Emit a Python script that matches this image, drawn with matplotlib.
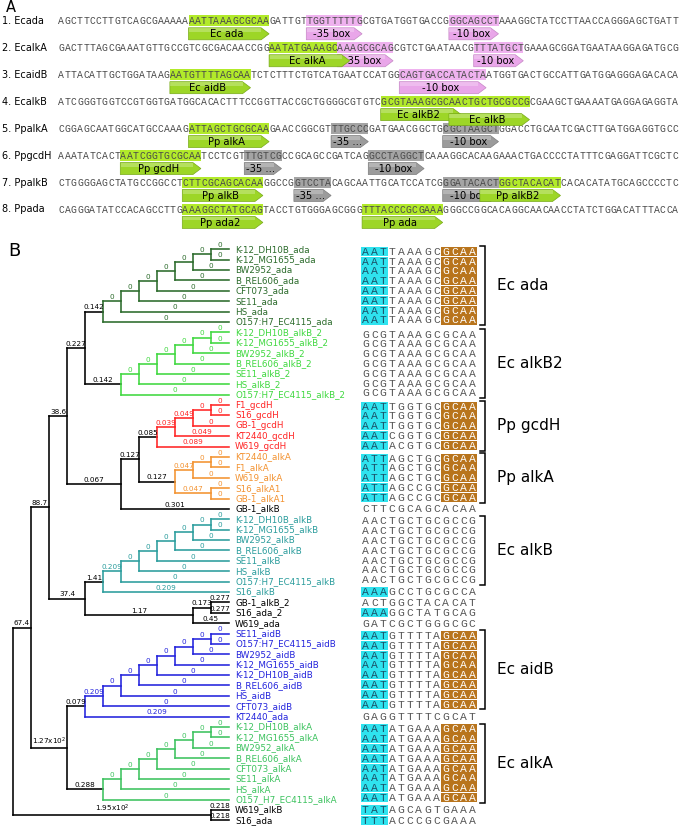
import matplotlib
matplotlib.use('Agg')
import matplotlib.pyplot as plt
from matplotlib.patches import Rectangle, Polygon

# ------------------------------------------------------------------ data: panel A
promoter_names = ["1. Ecada", "2. EcalkA", "3. EcaidB", "4. EcalkB",
                  "5. PpalkA", "6. PpgcdH", "7. PpalkB", "8. Ppada"]
promoter_seqs = [
    "AGCTTCCTTGTCAGCGAAAAAAATTAAAGCGCAAGATTGTTGGTTTTTGCGTGATGGTGACCGGGCAGCCTAAAGGCTATCCTTAACCAGGGAGCTGATT",
    "GACTTTAGCGAAATGTTGCCGTCGCGACAACCGGAATATGAAAGCAAAGCGCAGCGTCTGAATAACGTTTATGCTGAAAGCGGATGAATAAGGAGATGCG",
    "ATTACATTGCTGGATAAGAATGTTTTAGCAATCTCTTTCTGTCATGAATCCATGGCAGTGACCATACTAATGGTGACTGCCATTGATGGAGGGAGACACA",
    "ATCGGGTGGTCCGTGGTGATGGCACACTTTCCGGTTACCGCTGGGGCGTGTCGCGTAAAGCGCAACTGCTGCGCCGCGAAGCTGAAAATGAGGAGAGGTA",
    "CGGAGCAATGGCATGCCAAAGATTAGCTGCGCAAGAACCGGCGTTTGCCCGATGAACGGCTGCGCTAAGCTGGACCTGCAATCGACTTGATGGAGGTGCC",
    "AAATATCACTAATCGGTGCGCAATCCTCGTTTGTCGCCGCAGCCGATCAGGCCTAGGCTCAAAGGCACAAGAAACTGACCCCTATTTCGAGGATTCGCTC",
    "CTGGGGAGCTATGCCGGCCTCTTCGCAGCACAAGGCCGGTCCTACAGCAATTGCATCCATCGGGATACACTGGCTACACATCACACATATGCAGCCCCTC",
    "CAGGGATATCCACAGCCTTGAAAGGCTATGCAGTACCTGTGGGAGCGGGTTTACCCGCGAAAGGGCCGGCACAGGCAACAACCTATCTGGACATTTACCA",
]
# features: row, start, end, label, kind, level
feat_row   = [0, 0, 0,   1, 1, 1,   2, 2,   3, 3,   4, 4, 4,   5, 5, 5,   6, 6, 6, 6,   7, 7]
feat_start = [21, 40, 63, 34, 45, 67, 18, 55, 52, 63, 21, 44, 62, 10, 30, 50, 20, 38, 68, 62, 20, 49]
feat_end   = [34, 49, 71, 47, 54, 75, 31, 69, 65, 76, 34, 50, 71, 23, 36, 59, 33, 44, 81, 71, 33, 62]
feat_label = ["Ec ada", "-35 box", "-10 box",
              "Ec alkA", "-35 box", "-10 box",
              "Ec aidB", "-10 box",
              "Ec alkB2", "Ec alkB",
              "Pp alkA", "-35 ...", "-10 box",
              "Pp gcdH", "-35 ...", "-10 box",
              "Pp alkB", "-35 ...", "Pp alkB2", "-10 box",
              "Pp ada2", "Pp ada"]
feat_kind  = ["site", "ec", "ec", "site", "ec", "ec", "site", "ec", "site", "site",
              "site", "pp", "pp", "site", "pp", "pp", "site", "pp", "site", "pp",
              "site", "site"]
feat_level = [0, 0, 0, 0, 0, 0, 0, 0, 0, 1, 0, 0, 0, 0, 0, 0, 0, 0, 0, 0, 0, 0]

# ------------------------------------------------------------------ data: panel B tree
def L(name, bl):
    return {"name": name, "bl": bl}

def N(bl, *children, clade=None):
    return {"bl": bl, "children": list(children), "clade": clade}

def ladder(names, leaf_bls, node_bls, clade=None):
    node = N(node_bls[0], L(names[0], leaf_bls[0]), L(names[1], leaf_bls[1]))
    for k in range(2, len(names)):
        node = N(node_bls[k - 1], node, L(names[k], leaf_bls[k]))
    node["clade"] = clade
    return node

ada_names = ["K-12_DH10B_ada", "K-12_MG1655_ada", "BW2952_ada", "B_REL606_ada",
             "CFT073_ada", "SE11_ada", "HS_ada", "O157:H7_EC4115_ada"]
ada_leaf_bl = ["0", "0", "0", "0", "0", "0", "0", "0"]
ada_node_bl = ["0", "0", "0", "0", "0", "0", "0.142"]

alkB2_names = ["K-12_DH10B_alkB_2", "K-12_MG1655_alkB_2", "BW2952_alkB_2", "B_REL606_alkB_2",
               "SE11_alkB_2", "HS_alkB_2", "O157:H7_EC4115_alkB_2"]
alkB2_leaf_bl = ["0", "0", "0", "0", "0", "0", "0"]
alkB2_node_bl = ["0", "0", "0", "0", "0", "0.142"]

alkB_names = ["K-12_DH10B_alkB", "K-12_MG1655_alkB", "BW2952_alkB", "B_REL606_alkB",
              "SE11_alkB", "HS_alkB", "O157:H7_EC4115_alkB"]
alkB_leaf_bl = ["0", "0", "0", "0", "0", "0", "0"]
alkB_node_bl = ["0", "0", "0", "0", "0", "0.209"]

aidB_names = ["SE11_aidB", "O157:H7_EC4115_aidB", "BW2952_aidB", "K-12_MG1655_aidB",
              "K-12_DH10B_aidB", "B_REL606_aidB", "HS_aidB", "CFT073_aidB"]
aidB_leaf_bl = ["0", "0", "0", "0", "0", "0", "0", "0"]
aidB_node_bl = ["0", "0", "0", "0", "0", "0", "0.209"]

alkA_names = ["K-12_DH10B_alkA", "K-12_MG1655_alkA", "BW2952_alkA", "B_REL606_alkA",
              "CFT073_alkA", "SE11_alkA", "HS_alkA", "O157_H7_EC4115_alkA"]
alkA_leaf_bl = ["0", "0", "0", "0", "0", "0", "0", "0"]
alkA_node_bl = ["0", "0", "0", "0", "0", "0", "0.288"]

clade_colors = {"ada": "#2b6b2b", "alkB2": "#3fd83f", "gcdH": "#ff2424",
                "PpalkA": "#f39230", "alkB": "#2a9c9c", "aidB": "#2323dc",
                "alkA": "#3cc25e", None: "#000000"}

tree = N("",
    N("67.4",
        N("88.7",
            N("38.6",
                N("0.227",
                    ladder(ada_names, ada_leaf_bl, ada_node_bl, "ada"),
                    ladder(alkB2_names, alkB2_leaf_bl, alkB2_node_bl, "alkB2")),
                N("0.067",
                    N("0.127",
                        N("0.085",
                            N("0.039",
                                N("0.049",
                                    N("0", L("F1_gcdH", "0"), L("S16_gcdH", "0")),
                                    L("GB-1_gcdH", "0")),
                                L("KT2440_gcdH", "0.049")),
                            L("W619_gcdH", "0.089"), clade="gcdH"),
                        N("0.127",
                            N("0.047",
                                N("0", L("KT2440_alkA", "0"), L("F1_alkA", "0")),
                                L("W619_alkA", "0")),
                            N("0.047", L("S16_alkA1", "0"), L("GB-1_alkA1", "0")),
                            clade="PpalkA")),
                    L("GB-1_alkB", "0.301"))),
            N("37.4",
                N("1.41",
                    ladder(alkB_names, alkB_leaf_bl, alkB_node_bl),
                    L("S16_alkB", "0.209"), clade="alkB"),
                N("1.17",
                    N("0.173", L("GB-1_alkB_2", "0.277"), L("S16_ada_2", "0.277")),
                    L("W619_ada", "0.45")))),
        N("1.27x10$^2$",
            N("0.079",
                ladder(aidB_names, aidB_leaf_bl, aidB_node_bl),
                L("KT2440_ada", "0.209"), clade="aidB"),
            ladder(alkA_names, alkA_leaf_bl, alkA_node_bl, "alkA"))),
    N("1.95x10$^2$", L("W619_alkB", "0.218"), L("S16_ada", "0.218")))

# ------------------------------------------------------------------ data: panel B motifs
motif_seqs = [
    "AATTAAAGCGCAA", "AATTAAAGCGCAA", "AATTAAAGCGCAA", "AATTAAAGCGCAA",
    "AATTAAAGCGCAA", "AATTAAAGCGCAA", "AATTAAAGCGCAA", "AATTAAAGCGCAA",
    "GCGTAAAGCGCAA", "GCGTAAAGCGCAA", "GCGTAAAGCGCAA", "GCGTAAAGCGCAA",
    "GCGTAAAGCGCAA", "GCGTAAAGCGCAA", "GCGTAAAGCGCAA",
    "AATTGGTGCGCAA", "AATTGGTGCGCAA", "AATTGGTGCGCAA", "AATCGGTGCGCAA", "AATACGTGCGCAA",
    "ATTAGCTGCGCAA", "ATTAGCTGCGCAA", "ATTAGCTGCGCAA", "ATTAGCCGCGCAA", "ATTAGCCGCGCAA",
    "CTTCGCAGCACAA",
    "AACTGCTGCGCCG", "AACTGCTGCGCCG", "AACTGCTGCGCCG", "AACTGCTGCGCCG",
    "AACTGCTGCGCCG", "AACTGCTGCGCCG", "AACTGCTGCGCCG",
    "AAAGCCTGCGCCA", "ACTGGCTACACAT", "AAAGGCTATGCAG", "GATCGCTGGGCGC",
    "AATGTTTTAGCAA", "AATGTTTTAGCAA", "AATGTTTTAGCAA", "AATGTTTTAGCAA",
    "AATGTTTTAGCAA", "AATGTTTTAGCAA", "AATGTTTTAGCAA", "AATGTTTTAGCAA",
    "GAGGTTTTCGCAT",
    "AATATGAAAGCAA", "AATATGAAAGCAA", "AATATGAAAGCAA", "AATATGAAAGCAA",
    "AATATGAAAGCAA", "AATATGAAAGCAA", "AATATGAAAGCAA", "AATATGAAAGCAA",
    "TATAGCAGTGAAA", "TTTACCCGCGAAA",
]
motif_marks = (["cb"] * 8 + [""] * 7 + ["cb"] * 5 + ["cb"] * 5 + [""] + [""] * 7 +
               ["c", "", "c", ""] + ["cb"] * 8 + [""] + ["cb"] * 8 + ["c", "c"])
group_labels = ["Ec ada", "Ec alkB2", "Pp gcdH", "Pp alkA", "Ec alkB", "Ec aidB", "Ec alkA"]
group_first = [0, 8, 15, 20, 26, 37, 46]
group_last = [7, 14, 19, 24, 32, 44, 53]

# ------------------------------------------------------------------ figure
W, H = 683, 833
fig = plt.figure(figsize=(W / 100, H / 100), dpi=100)
ax = fig.add_axes([0, 0, 1, 1])
ax.set_xlim(0, W)
ax.set_ylim(H, 0)
ax.axis("off")

MONO = "Liberation Mono"
SANS = "DejaVu Sans"

ax.text(6, 11.5, "A", fontsize=10.5, family=SANS, va="baseline", ha="left")
ax.text(8, 251, "B", fontsize=13, family=SANS, va="center", ha="left")

# ---------------- panel A
A_x0, A_cw, A_y0, A_dy = 58.3, 6.2, 20.8, 26.95
hl_col = {"site": "#b2ea2a", "ec": "#efb2ef", "pp": "#a4a4a4"}
ar_col = {"site": "#9dd627", "ec": "#e9a6e9", "pp": "#9b9b9b"}
ar_edge = {"site": "#78aa1a", "ec": "#c688c6", "pp": "#7d7d7d"}

for i, (name, seq) in enumerate(zip(promoter_names, promoter_seqs)):
    y = A_y0 + i * A_dy
    ax.text(2, y, name, fontsize=7, family=SANS, va="center", ha="left")
    for j, ch in enumerate(seq):
        ax.text(A_x0 + (j + 0.5) * A_cw, y + 0.3, ch, fontsize=7.0, family=MONO,
                ha="center", va="center", color="#4a4a4a", zorder=3)

for k in range(len(feat_row)):
    y = A_y0 + feat_row[k] * A_dy
    x0 = A_x0 + feat_start[k] * A_cw
    x1 = A_x0 + feat_end[k] * A_cw
    kind = feat_kind[k]
    ax.add_patch(Rectangle((x0, y - 5.5), x1 - x0, 11, facecolor=hl_col[kind],
                           edgecolor="none", zorder=2))
    top = y + 7 + 5 * feat_level[k]
    hgt = 12
    tip = 8
    z = 5 + k * 0.01 if kind == "site" else 4 + k * 0.01
    poly = Polygon([(x0, top), (x1 - tip, top), (x1, top + hgt / 2),
                    (x1 - tip, top + hgt), (x0, top + hgt)], closed=True,
                   facecolor=ar_col[kind], edgecolor=ar_edge[kind], linewidth=0.5, zorder=z)
    ax.add_patch(poly)
    ax.add_patch(Rectangle((x0 + 0.5, top + 0.5), x1 - x0 - tip - 0.5, 3.5,
                           facecolor="white", alpha=0.25, edgecolor="none", zorder=z + 0.001))
    ax.text((x0 + x1 - tip * 0.6) / 2, top + hgt / 2 + 0.3, feat_label[k], fontsize=7.2,
            family=SANS, ha="center", va="center", color="black", zorder=z + 0.002)

# ---------------- panel B tree
TIP_X, STEP = 229.0, 18.0
LEAF_Y0, LEAF_DY = 249.3, 10.385
leaves = []

def prepare(node, color):
    if node.get("clade") is not None:
        color = clade_colors[node["clade"]]
    node["color"] = color
    if "name" in node:
        node["h"] = 0
        node["y"] = LEAF_Y0 + len(leaves) * LEAF_DY
        leaves.append(node)
    else:
        for c in node["children"]:
            prepare(c, color)
        node["h"] = 1 + max(c["h"] for c in node["children"])
        node["y"] = (node["children"][0]["y"] + node["children"][-1]["y"]) / 2
    node["x"] = TIP_X - STEP * node["h"]

prepare(tree, "#000000")

LW = 1.15

def draw(node):
    if "name" in node:
        ax.text(node["x"] + 6, node["y"], node["name"], fontsize=6.3, family=SANS,
                color=node["color"], ha="left", va="center")
        return
    ys = [c["y"] for c in node["children"]]
    ax.plot([node["x"], node["x"]], [min(ys), max(ys)], color=node["color"], lw=LW,
            solid_capstyle="projecting", zorder=2)
    for c in node["children"]:
        ax.plot([node["x"], c["x"]], [c["y"], c["y"]], color=node["color"], lw=LW,
                solid_capstyle="projecting", zorder=2)
        ax.text((node["x"] + c["x"]) / 2, c["y"] - 1.2, c["bl"], fontsize=5.2, family=SANS,
                color=node["color"], ha="center", va="bottom", zorder=3)
        draw(c)

draw(tree)

# ---------------- panel B motifs
S_x0, S_cw = 361.0, 8.9
seq_y = [lf["y"] for lf in leaves]
for g in range(len(group_labels)):
    a, b = group_first[g], group_last[g]
    cy = (seq_y[a] + seq_y[b]) / 2
    n = b - a + 1
    for k in range(n):
        seq_y[a + k] = cy + (k - (n - 1) / 2) * 9.8

for r, (s, m) in enumerate(zip(motif_seqs, motif_marks)):
    y = seq_y[r]
    if "c" in m:
        ax.add_patch(Rectangle((S_x0, y - 4.6), 3 * S_cw, 9.2, facecolor="#2fe3ef",
                               edgecolor="none", zorder=2))
    if "b" in m:
        ax.add_patch(Rectangle((S_x0 + 9 * S_cw, y - 4.6), 4 * S_cw, 9.2, facecolor="#b8741c",
                               edgecolor="none", zorder=2))
    for j, ch in enumerate(s):
        col = "#555555"
        if "c" in m and j < 3:
            col = "#1b5168"
        if "b" in m and j >= 9:
            col = "#ffffff"
        ax.text(S_x0 + (j + 0.5) * S_cw, y + 0.4, ch, fontsize=8.2, family=MONO,
                color=col, ha="center", va="center", zorder=3)

for g, lab in enumerate(group_labels):
    ytop = seq_y[group_first[g]] - 5.2
    ybot = seq_y[group_last[g]] + 5.2
    ax.plot([480, 485, 485, 480], [ytop, ytop, ybot, ybot], color="black", lw=1.1,
            solid_joinstyle="miter", zorder=2)
    ax.text(497, (ytop + ybot) / 2, lab, fontsize=11, family=SANS, ha="left", va="center")

fig.savefig("out.png", dpi=100)
